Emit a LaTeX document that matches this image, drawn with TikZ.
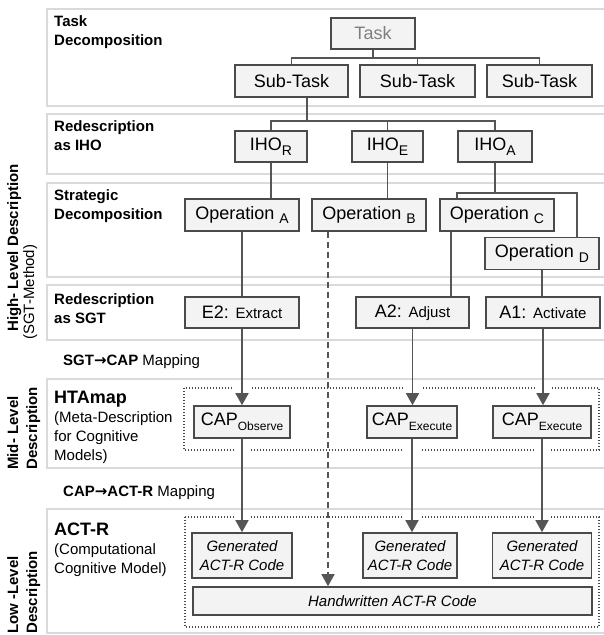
\documentclass[tikz,border=0pt]{standalone}
\usepackage{fontspec}
\setmainfont{Liberation Sans}
\newfontfamily\arrowfont{DejaVu Sans}
\usepackage{tikz}
\usetikzlibrary{arrows.meta}
\definecolor{bandline}{HTML}{DADADA}
\definecolor{boxline}{HTML}{4A4A4A}
\definecolor{boxfill}{HTML}{F3F3F3}
\definecolor{linkline}{HTML}{555555}
\definecolor{tasktext}{HTML}{7F7F7F}
\newcommand{\lowsub}[2][13]{\raisebox{-4.5pt}{\fontsize{#1}{#1}\selectfont #2}}

\begin{document}
\begin{tikzpicture}[x=1pt, y=-1pt]
    \tikzset{
      band/.style = { draw = bandline, fill = white, line width = 2pt },
      dotbox/.style = { draw = boxline, line width = 1.4pt, dash pattern = on 1.4pt off 1.6pt },
      box/.style = { draw = boxline, fill = boxfill, line width = 1.6pt, inner sep = 0pt,
                     minimum height = 31, font = \fontsize{18}{21}\selectfont },
      link/.style = { draw = linkline, line width = 1.6pt },
      arrow link/.style = { link, -{Triangle[width=13pt, length=12pt]} },
      knock/.style 2 args = { preaction = { draw = white, -, line width = 16pt, shorten <= #1, shorten >= #2 } },
      band label/.style = { font = \fontsize{15}{19}\selectfont\bfseries, align = left, anchor = north west, inner sep = 0pt },
      side label/.style = { band label, rotate = 90 },
    }
    \useasboundingbox (0,0) rectangle (603,635);

    \foreach \ytop/\ybot in {9/106, 114/174, 183/277, 285/340, 379/468, 509/633}
        \draw[band] (47,\ytop) rectangle (612,\ybot);

    \draw[dotbox] (184,388) rectangle (599,450);
    \draw[dotbox] (185,517) rectangle (599,627);

    \node[band label] (task label) at (54,15) {Task\\Decomposition};
    \node[band label] (iho label) at (54,120) {Redescription\\as IHO};
    \node[band label] (op label) at (54,189) {Strategic\\Decomposition};
    \node[band label] (sgt label) at (54,293) {Redescription\\as SGT};
    \node[band label, font = \fontsize{15}{19}\selectfont, anchor = base west] (sgt map) at (63,365)
        {\textbf{SGT}{\arrowfont\bfseries →}\textbf{CAP} Mapping};
    \node[band label, font = \fontsize{15}{19}\selectfont] (htamap label) at (54,391)
        {{\fontsize{18}{19}\selectfont\bfseries HTAmap}\\(Meta-Description\\for Cognitive\\Models)};
    \node[band label, font = \fontsize{15}{19}\selectfont, anchor = base west] (cap map) at (63,496)
        {\textbf{CAP}{\arrowfont\bfseries →}\textbf{ACT-R} Mapping};
    \node[band label, font = \fontsize{15}{19}\selectfont] (actr label) at (54,523)
        {{\fontsize{18}{19}\selectfont\bfseries ACT-R}\\(Computational\\Cognitive Model)};

    \node[side label] (high label) at (7,332) {High- Level Description};
    \node[side label, font = \fontsize{15}{19}\selectfont] (sgt method) at (23,340) {(SGT-Method)};
    \node[side label] (mid label) at (7,470) {Mid- Level\\Description};
    \node[side label] (low label) at (7,634) {Low -Level\\Description};

    \node[box, minimum width = 84, text = tasktext] (task) at (373,33.5) {Task};

    \foreach \x/\w [count = \i] in {291.5/113, 417.5/115, 539.5/105}
        \node[box, minimum width = \w, minimum height = 32] (sub task-\i) at (\x,81) {Sub-Task};

    \foreach \n/\x/\w in {R/271/72, E/387.5/71, A/495/74}
        \node[box, minimum width = \w] (iho-\n) at (\x,146.5) {IHO\lowsub[14]{\n}};

    \foreach \n/\x/\y in {A/242/215, B/369/215, C/497/215, D/542/253.5}
        \node[box, minimum width = 114, minimum height = 32] (op-\n) at (\x,\y) {Operation \lowsub[14]{\n}};

    \foreach \lbl/\word/\x/\w [count = \i] in {E2/Extract/242/114, A2/Adjust/412.5/113, A1/Activate/543/114}
        \node[box, minimum width = \w] (sgt-\i) at (\x,312.5) {\lbl: {\fontsize{15}{18}\selectfont\word}};

    \foreach \capsub/\x/\w [count = \i] in {Observe/242/96, Execute/412/90, Execute/542/98}
        \node[box, minimum width = \w, minimum height = 32] (cap-\i) at (\x,422) {CAP\lowsub[12]{\capsub}};

    \foreach \x/\w [count = \i] in {242/100, 410/94, 542/99}
        \node[box, minimum width = \w, minimum height = 45, align = center,
              font = \fontsize{15}{18.5}\selectfont\itshape] (gen-\i) at (\x,555.5) {Generated\\ACT-R Code};

    \node[box, minimum width = 399, minimum height = 28, font = \fontsize{15}{18}\selectfont\itshape]
        (hand) at (392.5,601) {Handwritten ACT-R Code};

    \foreach \i in {1,2,3}
        \draw[link] (task.south) -- ++(0,8) -| (sub task-\i.north);
    \foreach \n in {R,E,A}
        \draw[link] ([xshift=15.5pt]sub task-1.south) -- ++(0,23) -| (iho-\n.north);

    \draw[link] (iho-R.south) -- (iho-R.south |- op-A.north);
    \draw[link] (iho-E.south) -- (iho-E.south |- op-B.north);
    \draw[link] (iho-A.south) -- ++(0,30) -| ([xshift=18pt]op-C.north west);
    \draw[link] (iho-A.south) -- ++(0,30) -| ([xshift=-23pt]op-D.north east);

    \draw[link] (op-A.south) -- (op-A.south |- sgt-1.north);
    \draw[link] ([xshift=12pt]op-C.south west) -- ([xshift=12pt]op-C.south west |- sgt-2.north);
    \draw[link] (op-D.south) -- (op-D.south |- sgt-3.north);

    \foreach \i in {1,2,3} {
        \draw[arrow link, knock={55pt}{12pt}] (sgt-\i.south) -- (sgt-\i.south |- cap-\i.north);
        \draw[arrow link, knock={6pt}{77pt}, knock={74pt}{11pt}] (cap-\i.south) -- (cap-\i.south |- gen-\i.north);
    }
    \draw[arrow link, dash pattern = on 6pt off 4pt] ([xshift=-41pt]op-B.south) -- ([xshift=-41pt]op-B.south |- hand.north);
\end{tikzpicture}
\end{document}
